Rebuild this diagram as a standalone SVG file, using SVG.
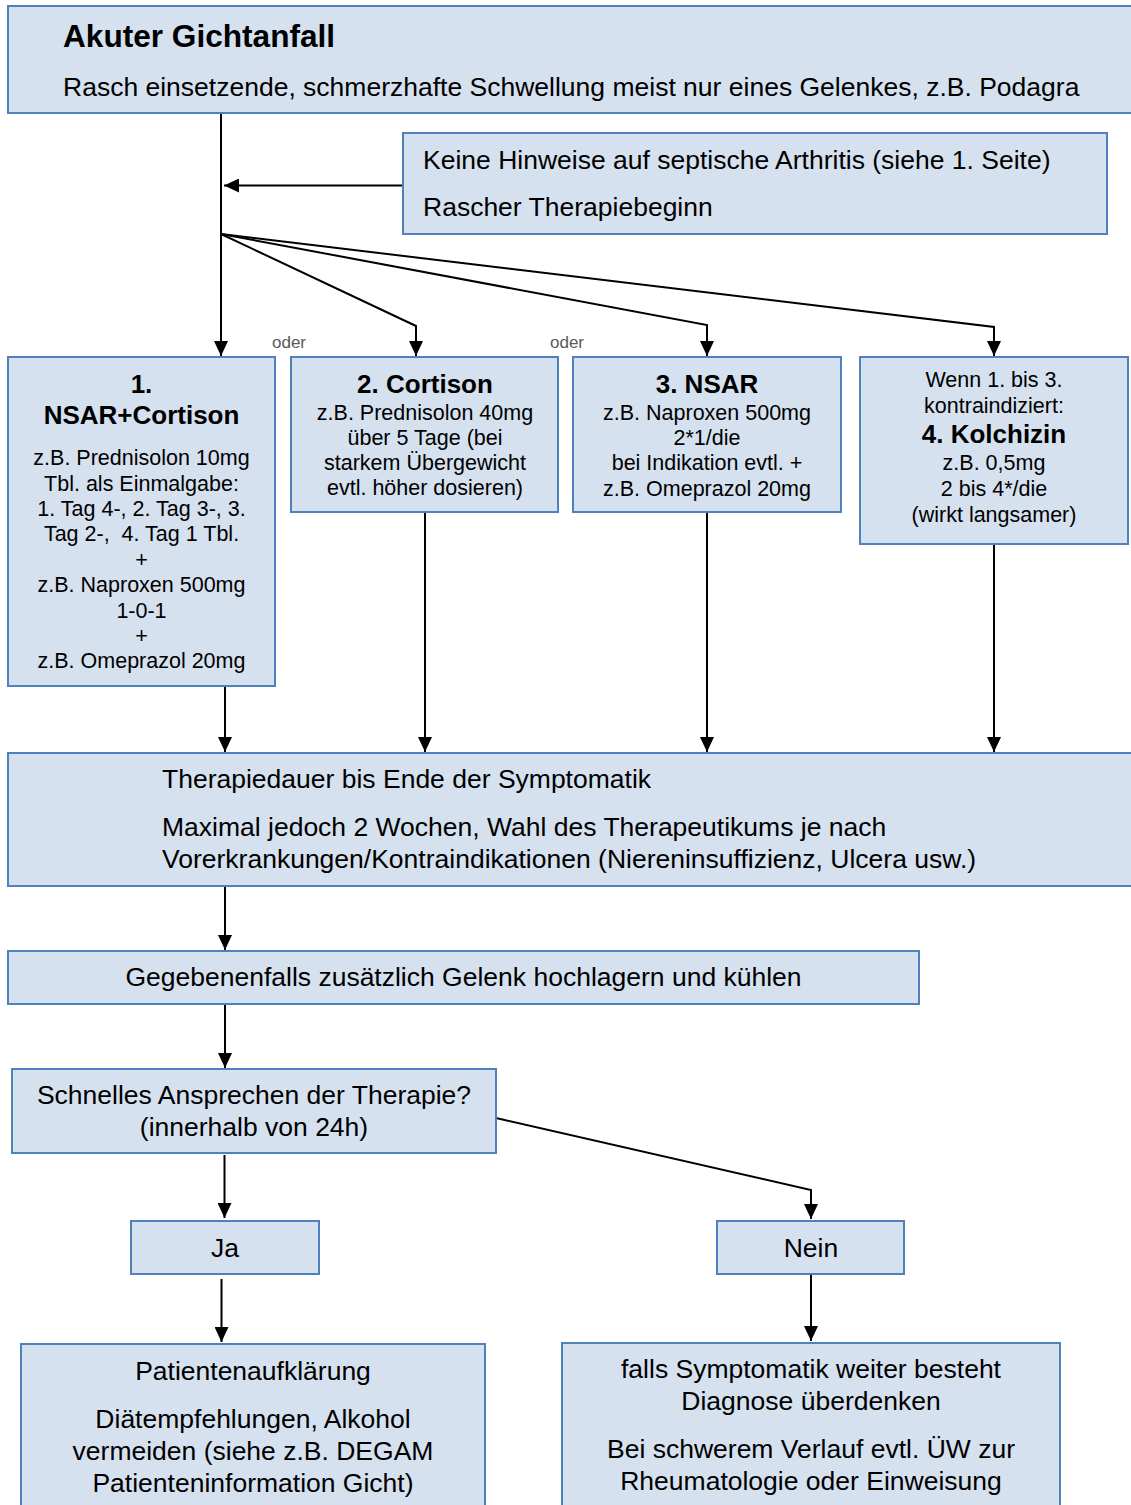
<svg xmlns="http://www.w3.org/2000/svg" width="1131" height="1505" viewBox="0 0 1131 1505">
<style>
.box{fill:#D6E1EF;stroke:#4F81BD;stroke-width:2}
text{font-family:"Liberation Sans",Arial,sans-serif;fill:#000}
.l{font-size:26.5px}
.s{font-size:21.5px;text-anchor:middle}
.b{font-size:26px;font-weight:bold;text-anchor:middle}
.c{text-anchor:middle}
.o{font-size:17px;fill:#595959}
.conn path{fill:none;stroke:#000;stroke-width:2}
</style>
<defs>
<marker id="ah" markerUnits="userSpaceOnUse" markerWidth="16" markerHeight="14" refX="15" refY="7" orient="auto">
<path d="M0,0 L15,7 L0,14 z" fill="#000"/>
</marker>
</defs>
<rect width="1131" height="1505" fill="#fff"/>

<g class="conn">
<path d="M221,113 V356" marker-end="url(#ah)"/>
<path d="M403,185.5 H224" marker-end="url(#ah)"/>
<path d="M221,234 L416,326 V356" marker-end="url(#ah)"/>
<path d="M221,234 L707,325 V356" marker-end="url(#ah)"/>
<path d="M221,234 L994,327 V356" marker-end="url(#ah)"/>
<path d="M225,686 V752" marker-end="url(#ah)"/>
<path d="M425,512 V752" marker-end="url(#ah)"/>
<path d="M707,512 V752" marker-end="url(#ah)"/>
<path d="M994,544 V752" marker-end="url(#ah)"/>
<path d="M225,886 V950" marker-end="url(#ah)"/>
<path d="M225,1004 V1068" marker-end="url(#ah)"/>
<path d="M224.5,1155 V1218" marker-end="url(#ah)"/>
<path d="M496,1118 L811,1190 V1219" marker-end="url(#ah)"/>
<path d="M221.5,1279 V1342" marker-end="url(#ah)"/>
<path d="M811,1274 V1341" marker-end="url(#ah)"/>
</g>

<g id="oder-labels">
<text class="o" x="272" y="348">oder</text>
<text class="o" x="550" y="348">oder</text>
</g>

<g id="n-akut">
<rect class="box" x="8" y="6" width="1130" height="107"/>
<text x="63" y="47" font-size="31.6" font-weight="bold">Akuter Gichtanfall</text>
<text class="l" x="63" y="96">Rasch einsetzende, schmerzhafte Schwellung meist nur eines Gelenkes, z.B. Podagra</text>
</g>

<g id="n-hinweis">
<rect class="box" x="403" y="133" width="704" height="101"/>
<text class="l" x="423" y="169">Keine Hinweise auf septische Arthritis (siehe 1. Seite)</text>
<text class="l" x="423" y="216">Rascher Therapiebeginn</text>
</g>

<g id="n-1">
<rect class="box" x="8" y="357" width="267" height="329"/>
<text class="b" x="141.5" y="393">1.</text>
<text class="b" x="141.5" y="424">NSAR+Cortison</text>
<text class="s" x="141.5" y="465">z.B. Prednisolon 10mg</text>
<text class="s" x="141.5" y="490.5">Tbl. als Einmalgabe:</text>
<text class="s" x="141.5" y="516">1. Tag 4-, 2. Tag 3-, 3.</text>
<text class="s" x="141.5" y="541" style="white-space:pre">Tag 2-,  4. Tag 1 Tbl.</text>
<text class="s" x="141.5" y="566.5">+</text>
<text class="s" x="141.5" y="592">z.B. Naproxen 500mg</text>
<text class="s" x="141.5" y="617.5">1-0-1</text>
<text class="s" x="141.5" y="643">+</text>
<text class="s" x="141.5" y="668">z.B. Omeprazol 20mg</text>
</g>

<g id="n-2">
<rect class="box" x="291" y="357" width="267" height="155"/>
<text class="b" x="425" y="393">2. Cortison</text>
<text class="s" x="425" y="420">z.B. Prednisolon 40mg</text>
<text class="s" x="425" y="445">über 5 Tage (bei</text>
<text class="s" x="425" y="470">starkem Übergewicht</text>
<text class="s" x="425" y="495">evtl. höher dosieren)</text>
</g>

<g id="n-3">
<rect class="box" x="573" y="357" width="268" height="155"/>
<text class="b" x="707" y="393">3. NSAR</text>
<text class="s" x="707" y="420">z.B. Naproxen 500mg</text>
<text class="s" x="707" y="445">2*1/die</text>
<text class="s" x="707" y="470">bei Indikation evtl. +</text>
<text class="s" x="707" y="496">z.B. Omeprazol 20mg</text>
</g>

<g id="n-4">
<rect class="box" x="860" y="357" width="268" height="187"/>
<text class="s" x="994" y="387">Wenn 1. bis 3.</text>
<text class="s" x="994" y="413">kontraindiziert:</text>
<text class="b" x="994" y="443">4. Kolchizin</text>
<text class="s" x="994" y="470">z.B. 0,5mg</text>
<text class="s" x="994" y="496">2 bis 4*/die</text>
<text class="s" x="994" y="522">(wirkt langsamer)</text>
</g>

<g id="n-dauer">
<rect class="box" x="8" y="753" width="1130" height="133"/>
<text class="l" x="162" y="788">Therapiedauer bis Ende der Symptomatik</text>
<text class="l" x="162" y="836">Maximal jedoch 2 Wochen, Wahl des Therapeutikums je nach</text>
<text class="l" x="162" y="868">Vorerkrankungen/Kontraindikationen (Niereninsuffizienz, Ulcera usw.)</text>
</g>

<g id="n-kuehlen">
<rect class="box" x="8" y="951" width="911" height="53"/>
<text class="l c" x="463.5" y="986">Gegebenenfalls zusätzlich Gelenk hochlagern und kühlen</text>
</g>

<g id="n-frage">
<rect class="box" x="12" y="1069" width="484" height="84"/>
<text class="l c" x="254" y="1104">Schnelles Ansprechen der Therapie?</text>
<text class="l c" x="254" y="1136">(innerhalb von 24h)</text>
</g>

<g id="n-ja">
<rect class="box" x="131" y="1221" width="188" height="53"/>
<text class="l c" x="225" y="1257">Ja</text>
</g>

<g id="n-nein">
<rect class="box" x="717" y="1221" width="187" height="53"/>
<text class="l c" x="811" y="1257">Nein</text>
</g>

<g id="n-aufklaerung">
<rect class="box" x="21" y="1344" width="464" height="170"/>
<text class="l c" x="253" y="1380">Patientenaufklärung</text>
<text class="l c" x="253" y="1428">Diätempfehlungen, Alkohol</text>
<text class="l c" x="253" y="1460">vermeiden (siehe z.B. DEGAM</text>
<text class="l c" x="253" y="1492">Patienteninformation Gicht)</text>
</g>

<g id="n-weiter">
<rect class="box" x="562" y="1343" width="498" height="170"/>
<text class="l c" x="811" y="1378">falls Symptomatik weiter besteht</text>
<text class="l c" x="811" y="1410">Diagnose überdenken</text>
<text class="l c" x="811" y="1458">Bei schwerem Verlauf evtl. ÜW zur</text>
<text class="l c" x="811" y="1490">Rheumatologie oder Einweisung</text>
</g>
</svg>
